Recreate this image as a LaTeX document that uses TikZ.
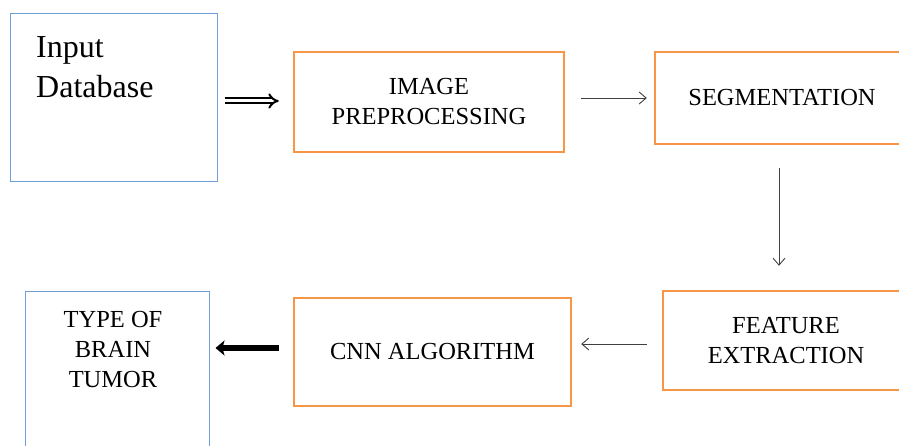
\documentclass[tikz,border=0pt]{standalone}
\usepackage{fontspec}
\setmainfont{Liberation Serif}
\usetikzlibrary{arrows.meta}
\definecolor{boxblue}{HTML}{6F9FD6}
\definecolor{boxorange}{HTML}{F79646}
\definecolor{thinarrow}{HTML}{404040}
\tikzset{
  bluebox/.style={draw=boxblue, line width=1pt, rectangle, inner sep=0pt},
  orangebox/.style={draw=boxorange, line width=2.4pt, rectangle, inner sep=0pt,
    align=center, font=\fontsize{24.5}{30}\selectfont},
  labeltext/.style={inner sep=0pt, align=center, font=\fontsize{24.5}{30}\selectfont},
  thinarr/.style={draw=thinarrow, line width=0.9pt, -{Straight Barb[length=7pt,width=12pt]}},
  dblarr/.style={double, double distance=3pt, line width=2pt, -{Implies}},
  thickarr/.style={line width=5.5pt, -{Stealth[length=9pt,width=15pt,inset=2pt]}}
}
\begin{document}
\begin{tikzpicture}[x=1pt,y=-1pt]
\clip (0,0) rectangle (899,446);
\fill[white] (0,0) rectangle (899,446);
% boxes
\node[bluebox, minimum width=207pt, minimum height=168pt] (in) at (113.5,98) {};
\node[inner sep=0pt, anchor=north west, align=left, font=\fontsize{32}{40}\selectfont] (inlab) at (36,36) {Input\\Database};
\node[orangebox, minimum width=270pt, minimum height=100pt] (pre) at (429,102) {IMAGE\\PREPROCESSING};
\node[orangebox, minimum width=254pt, minimum height=92pt] (seg) at (782,98) {SEGMENTATION};
\node[orangebox, minimum width=246pt, minimum height=99pt] (feat) at (786,340.5) {FEATURE\\EXTRACTION};
\node[orangebox, minimum width=277pt, minimum height=108pt] (cnn) at (432.5,352) {CNN ALGORITHM};
\node[bluebox, minimum width=184pt, minimum height=180pt] (type) at (117,381) {};
\node[labeltext, anchor=north] (typelab) at (113,311) {TYPE OF\\BRAIN\\TUMOR};
% connectors
\draw[dblarr] ([shift={(7,3)}]in.east) -- ([shift={(-14,-1)}]pre.west);
\draw[thinarr] ([shift={(16,-4)}]pre.east) -- ([shift={(-7,0)}]seg.west);
\draw[thinarr] ([shift={(-3,23)}]seg.south) -- ([shift={(-7,-24)}]feat.north);
\draw[thinarr] ([shift={(-15,3.5)}]feat.west) -- ([shift={(9,-8)}]cnn.east);
\draw[thickarr] ([shift={(-14,-4)}]cnn.west) -- ([shift={(6,-33)}]type.east);
\end{tikzpicture}
\end{document}
